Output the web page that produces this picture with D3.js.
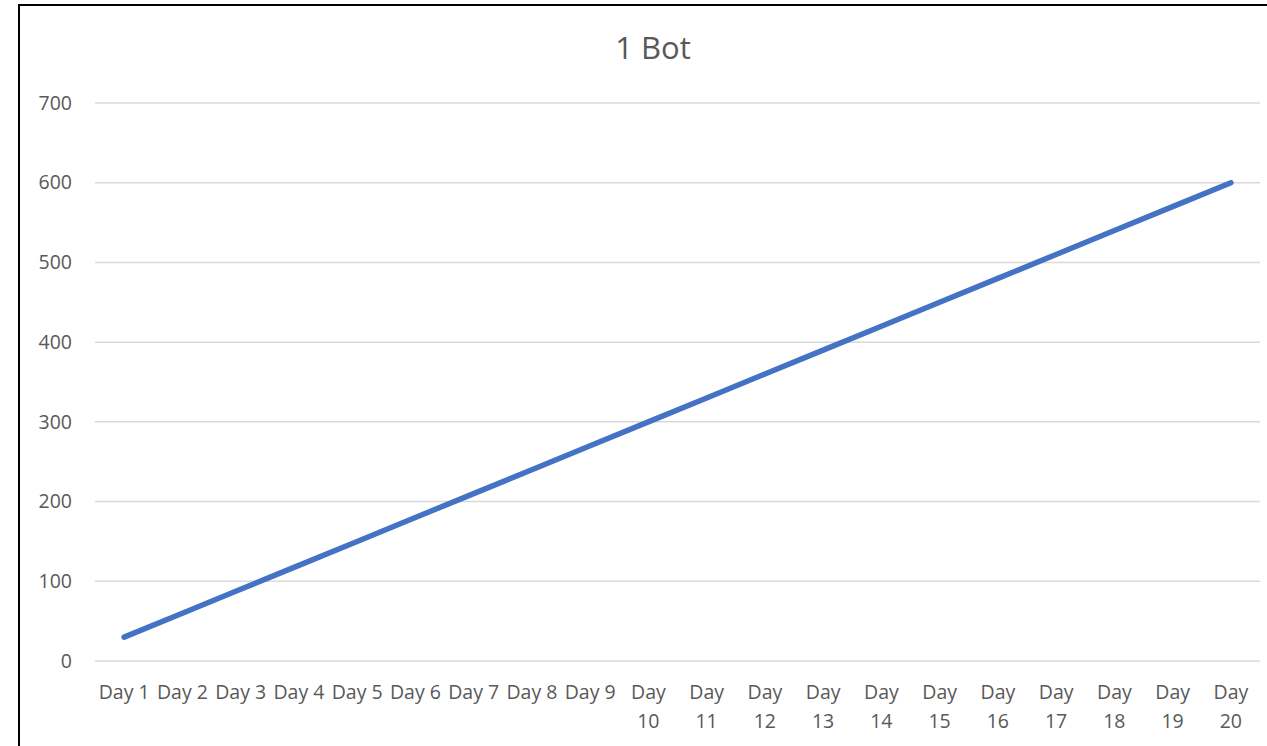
<!DOCTYPE html>
<html>
<head>
<meta charset="utf-8">
<script src="https://cdn.jsdelivr.net/npm/d3@7"></script>
<style>
  body { margin: 0; background: #fff; }
  text { font-family: "Open Sans", "Liberation Sans", sans-serif; fill: #595959; }
</style>
</head>
<body>
<div id="chart"></div>
<script>
var days = ["Day 1", "Day 2", "Day 3", "Day 4", "Day 5", "Day 6", "Day 7", "Day 8", "Day 9", "Day 10",
            "Day 11", "Day 12", "Day 13", "Day 14", "Day 15", "Day 16", "Day 17", "Day 18", "Day 19", "Day 20"];
var bots = [30, 60, 90, 120, 150, 180, 210, 240, 270, 300,
            330, 360, 390, 420, 450, 480, 510, 540, 570, 600];
var yTicks = [0, 100, 200, 300, 400, 500, 600, 700];
var title = "1 Bot";

var W = 1267, H = 746;
var margin = {top: 103, right: 7, bottom: 85, left: 95};
var width = W - margin.left - margin.right,
    height = H - margin.top - margin.bottom;

var svg = d3.select("#chart").append("svg")
    .attr("width", W)
    .attr("height", H);

// chart frame
svg.append("rect")
    .attr("x", 19).attr("y", 5)
    .attr("width", W).attr("height", H)
    .attr("fill", "none")
    .attr("stroke", "#000")
    .attr("stroke-width", 2);

svg.append("text")
    .attr("x", 653).attr("y", 59)
    .attr("text-anchor", "middle")
    .style("font-size", "31px")
    .text(title);

var g = svg.append("g")
    .attr("transform", "translate(" + margin.left + "," + margin.top + ")");

var x = d3.scaleBand().domain(days).range([0, width]);
var y = d3.scaleLinear().domain([0, 700]).range([height, 0]);

// gridlines
g.selectAll(".grid")
    .data(yTicks)
    .enter().append("line")
    .attr("x1", 0).attr("x2", width)
    .attr("y1", function(d) { return y(d); })
    .attr("y2", function(d) { return y(d); })
    .attr("stroke", "#d9d9d9")
    .attr("stroke-width", 1.5);

var yAxis = g.append("g")
    .call(d3.axisLeft(y).tickValues(yTicks).tickSize(0).tickPadding(23));
yAxis.select(".domain").remove();
yAxis.selectAll("text").style("font-size", "19.5px").attr("fill", "#595959");

var xAxis = g.append("g")
    .attr("transform", "translate(0," + height + ")")
    .call(d3.axisBottom(x).tickSize(0).tickPadding(0).tickFormat(""));
xAxis.select(".domain").remove();

xAxis.selectAll(".tick").each(function(d) {
    var t = d3.select(this).append("text")
        .attr("text-anchor", "middle")
        .style("font-size", "19.5px")
        .attr("fill", "#595959");
    var parts = d.split(" ");
    if (parts[1].length > 1) {
        t.append("tspan").attr("x", 0).attr("y", 38).text(parts[0]);
        t.append("tspan").attr("x", 0).attr("y", 67).text(parts[1]);
    } else {
        t.append("tspan").attr("x", 0).attr("y", 38).text(d);
    }
});

var line = d3.line()
    .x(function(d, i) { return x(days[i]) + x.bandwidth() / 2; })
    .y(function(d) { return y(d); });

g.append("path")
    .datum(bots)
    .attr("d", line)
    .attr("fill", "none")
    .attr("stroke", "#4472c4")
    .attr("stroke-width", 5.5)
    .attr("stroke-linecap", "round");
</script>
</body>
</html>
